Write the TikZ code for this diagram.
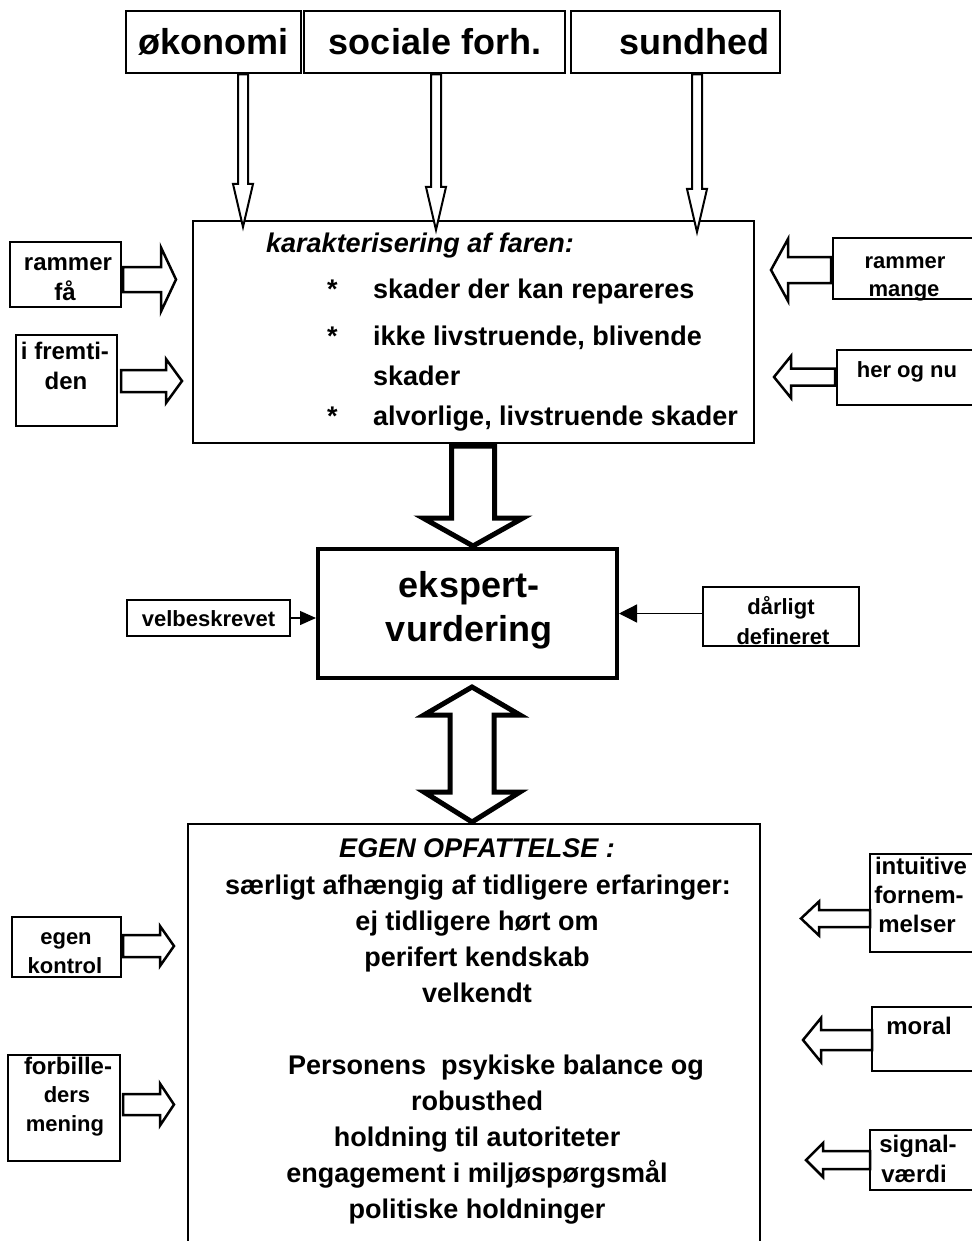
\documentclass[tikz,border=0pt]{standalone}
\usepackage{fontspec}
\setmainfont{Liberation Sans}
\usetikzlibrary{arrows.meta,fit}
\newcommand{\fntTop}{\fontsize{36}{43}\selectfont\bfseries}
\newcommand{\fntMid}{\fontsize{27}{36}\selectfont\bfseries}
\newcommand{\fntSide}{\fontsize{22}{29}\selectfont\bfseries}
\newcommand{\fntSideL}{\fontsize{24}{29}\selectfont\bfseries}
% horizontal hollow block arrow: tail x, tip x, centre y, shaft half, head half, head length (signed)
\newcommand{\harrow}[6]{\draw[sidearrow] (#1,{#3-#4}) -- ({#2-(#6)},{#3-#4}) -- ({#2-(#6)},{#3-#5}) -- (#2,#3) -- ({#2-(#6)},{#3+#5}) -- ({#2-(#6)},{#3+#4}) -- (#1,{#3+#4}) -- cycle;}
% vertical hollow down arrow: x, top y, tip y, shaft half, head half, head length
\newcommand{\varrow}[6]{\draw[thinarrow] ({#1-#4},#2) -- ({#1-#4},{#3-#6}) -- ({#1-#5},{#3-#6}) -- (#1,#3) -- ({#1+#5},{#3-#6}) -- ({#1+#4},{#3-#6}) -- ({#1+#4},#2) -- cycle;}
\begin{document}
\begin{tikzpicture}[x=1pt,y=-1pt,
  box/.style={draw, line width=1.5pt, inner sep=0pt},
  thickbox/.style={draw, line width=4pt, inner sep=0pt},
  toptxt/.style={font=\fntTop, inner sep=0pt, anchor=base},
  midtxt/.style={font=\fntMid, inner sep=0pt},
  sidetxt/.style={font=\fntSide, inner sep=0pt, text height=16pt, text depth=2pt},
  sidetxtL/.style={font=\fntSideL, inner sep=0pt, text height=17pt, text depth=2pt},
  thinarrow/.style={draw, line width=2pt, fill=white},
  sidearrow/.style={draw, line width=2.5pt, fill=white},
  bigarrow/.style={draw, line width=5pt, fill=white},
  pointerA/.style={draw, line width=1.3pt, -{Triangle[length=16pt,width=14pt]}},
  pointerB/.style={draw, line width=1.3pt, -{Triangle[length=18pt,width=18pt]}}
]
\useasboundingbox (0,0) rectangle (971,1241);

% top boxes
\node[box, fit={(126,11) (301,73)}] (oko) {};
\node[box, fit={(304,11) (565,73)}] (soc) {};
\node[box, fit={(571,11) (780,73)}] (sun) {};
\node[toptxt] (okot) at (213,55) {økonomi};
\node[toptxt] (soct) at (435,55) {sociale forh.};
\node[toptxt] (sunt) at (694,55) {sundhed};

% characterisation box
\node[box, fit={(193,221) (754,443)}] (kar) {};
\node[midtxt, anchor=base west, font=\fntMid\itshape] (kar0) at (266,253) {karakterisering af faren:};
\node[midtxt, anchor=base west] (st1) at (327,298) {*};
\node[midtxt, anchor=base west] (kar1) at (373,298) {skader der kan repareres};
\node[midtxt, anchor=base west] (st2) at (327,345) {*};
\node[midtxt, anchor=base west] (kar2) at (373,345) {ikke livstruende, blivende};
\node[midtxt, anchor=base west] (kar3) at (373,385) {skader};
\node[midtxt, anchor=base west] (st3) at (327,425) {*};
\node[midtxt, anchor=base west] (kar4) at (373,425) {alvorlige, livstruende skader};

% top arrows
\varrow{243}{74.5}{227}{5}{10}{43}
\varrow{436}{74.5}{230}{5}{10}{43}
\varrow{697}{74.5}{232}{5}{10}{43}

% side boxes, upper
\node[box, line width=1.3pt, fit={(10,242) (121,307)}] (rf) {};
\node[sidetxtL] (rf1) at (68,263) {rammer};
\node[sidetxtL] (rf2) at (65,293) {få};
\node[box, line width=1.3pt, fit={(16,335) (117,426)}] (ifr) {};
\node[sidetxtL] (ifr1) at (65,352) {i fremti-};
\node[sidetxtL] (ifr2) at (66,382) {den};
\node[box, line width=1.3pt, fit={(833,238) (975,299)}] (rm) {};
\node[sidetxt] (rm1) at (905,262) {rammer};
\node[sidetxt] (rm2) at (904,289) {mange};
\node[box, line width=1.3pt, fit={(837,350) (975,405)}] (hn) {};
\node[sidetxt] (hn1) at (907,370) {her og nu};

\harrow{123}{176}{279.5}{12.5}{32}{15}
\harrow{121}{182}{381}{11}{22}{16}
\harrow{831}{771}{270}{13}{31}{-17}
\harrow{835}{774}{377}{8.5}{21}{-17}

% big arrow down
\draw[bigarrow] (451.5,446) -- (451.5,518) -- (423,518) -- (473,546) -- (523,518) -- (494.5,518) -- (494.5,446) -- cycle;

% expert box
\node[thickbox, fit={(318,549) (617,678)}] (eks) {};
\node[toptxt] (eks1) at (469,597) {ekspert-};
\node[toptxt] (eks2) at (469,641) {vurdering};

\node[box, line width=1.3pt, fit={(127,600) (290,636)}] (vel) {};
\node[sidetxt] (vel1) at (208.5,619) {velbeskrevet};
\node[box, line width=1.3pt, fit={(703,587) (859,646)}] (dar) {};
\node[sidetxt] (dar1) at (781,607) {dårligt};
\node[sidetxt] (dar2) at (783,637) {defineret};
\coordinate (darin) at ([yshift=3pt]dar.west);
\draw[pointerA] (vel.east) -- (eks.west |- vel.east);
\draw[pointerB] (darin) -- (eks.east |- darin);

% double arrow
\draw[bigarrow] (472,687) -- (520,715) -- (494,715) -- (494,792) -- (520,792) -- (472,822) -- (424,792) -- (450,792) -- (450,715) -- (424,715) -- cycle;

% own perception box
\node[box, fit={(188,824) (760,1262)}] (ego) {};
\node[midtxt, anchor=base, font=\fntMid\itshape] (ego0) at (477,857) {EGEN OPFATTELSE :};
\node[midtxt, anchor=base] (ego1) at (478,894) {særligt afhængig af tidligere erfaringer:};
\node[midtxt, anchor=base] (ego2) at (477,930) {ej tidligere hørt om};
\node[midtxt, anchor=base] (ego3) at (477,966) {perifert kendskab};
\node[midtxt, anchor=base] (ego4) at (477,1002) {velkendt};
\node[midtxt, anchor=base] (ego5) at (496,1074) {Personens~ psykiske balance og};
\node[midtxt, anchor=base] (ego6) at (477,1110) {robusthed};
\node[midtxt, anchor=base] (ego7) at (477,1146) {holdning til autoriteter};
\node[midtxt, anchor=base] (ego8) at (477,1182) {engagement i miljøspørgsmål};
\node[midtxt, anchor=base] (ego9) at (477,1218) {politiske holdninger};

% side boxes, lower
\node[box, line width=1.3pt, fit={(12,917) (121,977)}] (ek) {};
\node[sidetxt] (ek1) at (66,937) {egen};
\node[sidetxt] (ek2) at (65,966) {kontrol};
\node[box, line width=1.3pt, fit={(8,1055) (120,1161)}] (fb) {};
\node[sidetxtL] (fb1) at (68,1067) {forbille-};
\node[sidetxt] (fb2) at (67,1095) {ders};
\node[sidetxt] (fb3) at (65,1124) {mening};
\node[box, line width=1.3pt, fit={(870,854) (975,952)}] (int) {};
\node[sidetxtL] (int1) at (921,867) {intuitive};
\node[sidetxtL] (int2) at (919,896) {fornem-};
\node[sidetxtL] (int3) at (917,925) {melser};
\node[box, line width=1.3pt, fit={(872,1007) (975,1071)}] (mor) {};
\node[sidetxtL] (mor1) at (919,1027) {moral};
\node[box, line width=1.3pt, fit={(870,1130) (975,1190)}] (sig) {};
\node[sidetxtL] (sig1) at (918,1145) {signal-};
\node[sidetxtL] (sig2) at (914,1175) {værdi};

\harrow{123}{174}{946}{11}{20}{14}
\harrow{123}{174}{1104.5}{10.5}{21}{14}
\harrow{870}{801}{918.5}{8.5}{17}{-18}
\harrow{872}{803}{1040}{10}{22}{-18}
\harrow{870}{806}{1160}{9}{17}{-17}
\end{tikzpicture}
\end{document}
